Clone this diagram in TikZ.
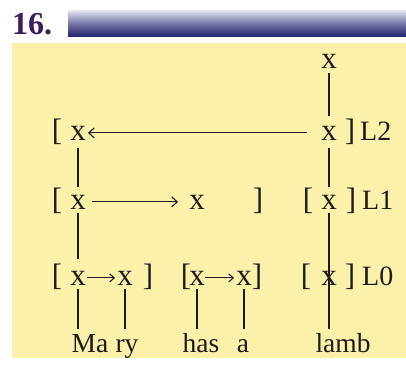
\documentclass[tikz,border=0pt]{standalone}
\usepackage{fontspec}
\setmainfont{Liberation Serif}
\usetikzlibrary{arrows.meta}
\definecolor{bgyellow}{RGB}{251,241,170}
\definecolor{ink}{RGB}{30,28,26}
\definecolor{numpurple}{RGB}{60,30,92}
\definecolor{barlight}{RGB}{232,232,242}
\definecolor{barmid}{RGB}{120,120,170}
\definecolor{bardark}{RGB}{38,38,112}
\begin{document}
\begin{tikzpicture}[x=1pt,y=-1pt,
  txt/.style={inner sep=0pt, anchor=base, text=ink, font=\fontsize{31}{34}\selectfont},
  word/.style={txt, text height=18pt, font=\fontsize{27.5}{30}\selectfont},
  lbl/.style={txt, anchor=base west, font=\fontsize{28}{30}\selectfont},
  link/.style={draw=ink, line width=1.1pt},
  arr/.style={link, -{Straight Barb[length=5.5pt,width=10pt,line width=1.1pt]}},
  sarr/.style={link, -{Straight Barb[length=4.5pt,width=8pt]}}]
\useasboundingbox (0,0) rectangle (406,365);
\fill[white] (0,0) rectangle (406,365);
\fill[bgyellow] (12,43) rectangle (406,358);
\shade[top color=barlight, bottom color=bardark, middle color=barmid] (68,10) rectangle (406,36);
\node[anchor=base west, inner sep=0pt, text=numpurple, font=\bfseries\fontsize{32}{34}\selectfont] (num) at (12,34) {16.};
% top
\node[txt] (top) at (329,68) {x};
% L2
\node[txt] (lb2) at (57,140) {[};
\node[txt] (a2) at (78,140) {x};
\node[txt] (b2) at (329,140) {x};
\node[txt] (rb2) at (350,140) {]};
\node[lbl] (L2) at (360,140) {L2};
% L1
\node[txt] (lb1) at (57,209) {[};
\node[txt] (a1) at (78,209) {x};
\node[txt] (c1) at (197,209) {x};
\node[txt] (rb1) at (258,209) {]};
\node[txt] (lbr1) at (308,209) {[};
\node[txt] (b1) at (329,209) {x};
\node[txt] (rbr1) at (351,209) {]};
\node[lbl] (L1) at (362,209) {L1};
% L0
\node[txt] (lb0) at (57,285) {[};
\node[txt] (a0) at (78,285) {x};
\node[txt] (d0) at (125,285) {x};
\node[txt] (rb0) at (148,285) {]};
\node[txt] (lbm0) at (186,285) {[};
\node[txt] (e0) at (197,285) {x};
\node[txt] (f0) at (244,285) {x};
\node[txt] (rbm0) at (257,285) {]};
\node[txt] (lbr0) at (306,285) {[};
\node[txt] (b0) at (329,285) {x};
\node[txt] (rbr0) at (350,285) {]};
\node[lbl] (L0) at (362,285) {L0};
% words
\node[word] (w1) at (90,352) {Ma};
\node[word] (w2) at (127,352) {ry};
\node[word] (w3) at (201,352) {has};
\node[word] (w4) at (243,352) {a};
\node[word] (w5) at (343,352) {lamb};
% vertical links
\draw[link, shorten <=5pt, shorten >=10pt] (top.south) -- (b2.north);
\draw[link, shorten <=8pt, shorten >=8pt] (a2.south) -- (a1.north);
\draw[link, shorten <=8pt, shorten >=8pt] (b2.south) -- (b1.north);
\draw[link, shorten <=4pt, shorten >=12pt] (a1.south) -- (a0.north);
\draw[link, shorten <=4pt] (b1.south) -- (b0.center);
\draw[link, shorten >=5pt] (b0.center) -- (b0.center |- w5.north);
\draw[link, shorten <=4pt, shorten >=5pt] (a0.south) -- (a0.south |- w1.north);
\draw[link, shorten <=4pt, shorten >=5pt] (d0.south) -- (d0.south |- w2.north);
\draw[link, shorten <=4pt, shorten >=5pt] (e0.south) -- (e0.south |- w3.north);
\draw[link, shorten <=4pt, shorten >=5pt] (f0.south) -- (f0.south |- w4.north);
% arrows
\draw[arr, shorten <=14pt, shorten >=2pt] (b2.west) -- (a2.east);
\draw[arr, shorten <=6pt, shorten >=11pt] (a1.east) -- (c1.west);
\draw[sarr, shorten <=1pt, shorten >=2pt] (a0.east) -- (d0.west);
\draw[sarr, shorten <=0pt, shorten >=2pt] (e0.east) -- (f0.west);
\end{tikzpicture}
\end{document}
